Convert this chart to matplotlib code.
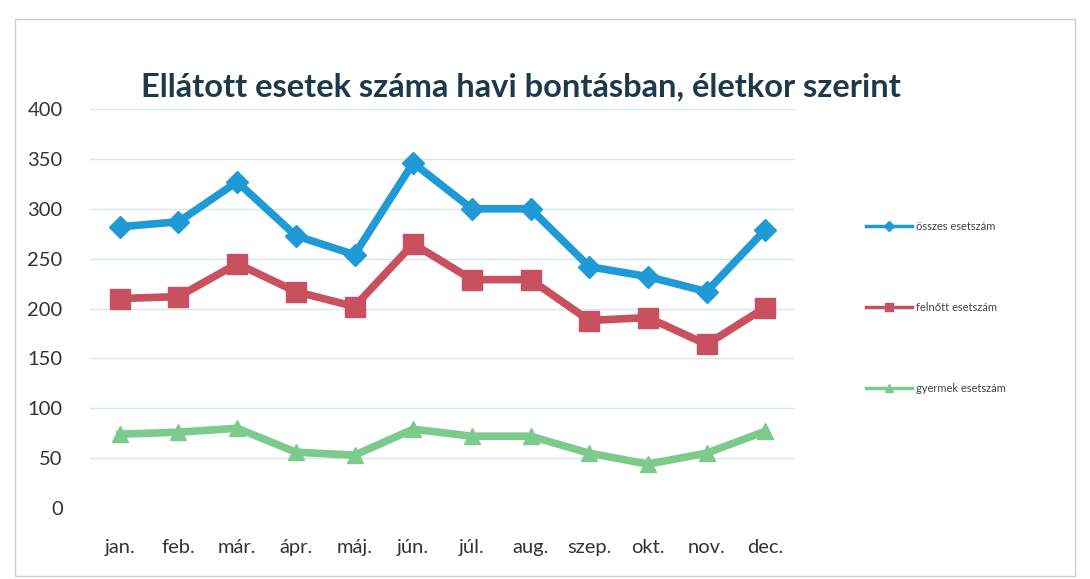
import matplotlib
matplotlib.use("Agg")
import matplotlib.pyplot as plt
from matplotlib.patches import Rectangle

plt.rcParams["font.family"] = ["Lato", "DejaVu Sans"]

months = ["jan.", "feb.", "már.", "ápr.", "máj.", "jún.", "júl.", "aug.", "szep.", "okt.", "nov.", "dec."]
osszes = [282, 287, 327, 273, 254, 346, 300, 300, 242, 232, 217, 279]
felnott = [210, 212, 245, 217, 202, 265, 229, 229, 188, 191, 164, 201]
gyermek = [74, 76, 80, 56, 53, 79, 72, 72, 55, 44, 55, 77]

series = [
    ("összes esetszám", osszes, "#1E9AD6", "D", 11),
    ("felnőtt esetszám", felnott, "#C9505F", "s", 14),
    ("gyermek esetszám", gyermek, "#7DCB8C", "^", 12),
]

fig = plt.figure(figsize=(10.9, 5.79), dpi=100)
ax = fig.add_axes([0.083, 0.1226, 0.646, 0.689])

x = list(range(len(months)))
for label, vals, color, marker, ms in series:
    ax.plot(x, vals, color=color, lw=5.5, marker=marker, markersize=ms,
            markeredgecolor=color, label=label, solid_joinstyle="round")

ax.set_xlim(-0.5, 11.5)
ax.set_ylim(0, 400)
ax.set_yticks(range(0, 401, 50))
ax.set_xticks(x)
ax.set_xticklabels(months)
ax.tick_params(axis="both", length=0, labelsize=14.5, colors="#333333")
ax.tick_params(axis="y", pad=20)
ax.tick_params(axis="x", pad=22)
ax.grid(axis="y", color="#D6E6EE", lw=1)
ax.set_axisbelow(True)
for s in ax.spines.values():
    s.set_visible(False)

fig.text(0.478, 0.85, "Ellátott esetek száma havi bontásban, életkor szerint",
         ha="center", va="center", fontsize=23.5, fontweight="bold", color="#1E3A4A")

leg = fig.legend(loc="upper left", bbox_to_anchor=(0.785, 0.635), frameon=False,
                 fontsize=8, labelspacing=6.3, handlelength=4.2, handletextpad=0.3,
                 markerscale=0.45)
for t in leg.get_texts():
    t.set_color("#444444")
for ln in leg.get_lines():
    ln.set_linewidth(2.5)

fig.patches.append(Rectangle((0.014, 0.005), 0.972, 0.962, transform=fig.transFigure,
                             fill=False, edgecolor="#CCCCCC", lw=1))

fig.savefig("out.png", dpi=100)
